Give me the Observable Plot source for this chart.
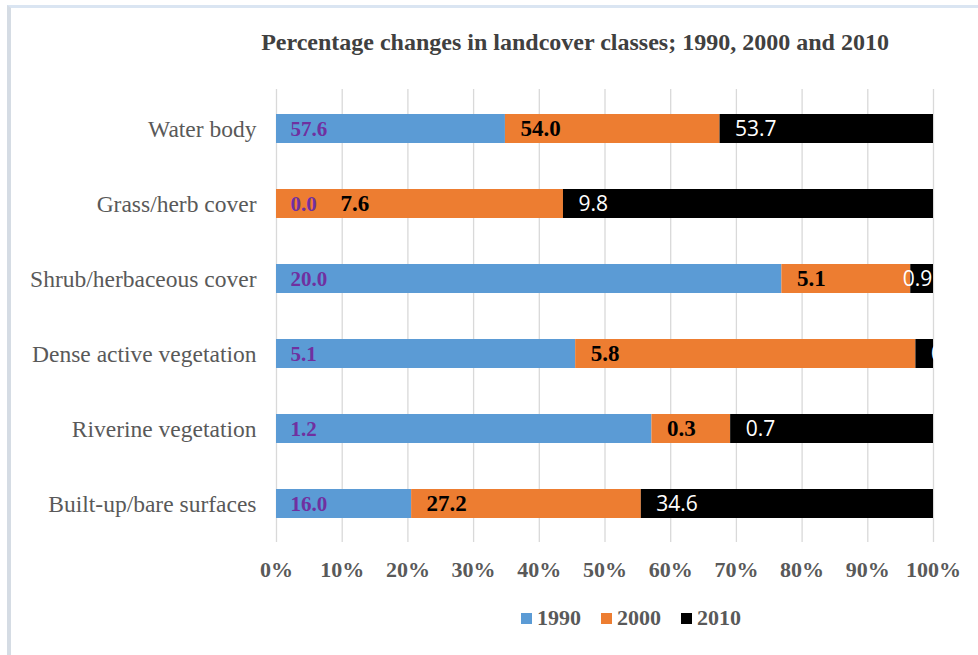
<!DOCTYPE html>
<html>
<head>
<meta charset="utf-8">
<script src="https://cdn.jsdelivr.net/npm/d3@7"></script>
<script src="https://cdn.jsdelivr.net/npm/@observablehq/plot@0.6"></script>
<style>
  html, body { margin: 0; padding: 0; background: #fff; }
  #wrap { position: relative; width: 978px; height: 655px; overflow: hidden; background: #fff; }
  #frame { position: absolute; left: 7px; top: 5px; width: 1100px; height: 800px;
           border-left: 4px solid #D5DCE4; border-top: 3px solid #DAE5F2; box-sizing: border-box; }
  #chart { position: absolute; left: 0; top: 0; }
  #title { position: absolute; left: 0; width: 1150px; top: 30px; text-align: center;
           font-family: "Liberation Serif", serif; font-weight: bold; font-size: 24px; line-height: 24px;
           color: #404040; white-space: nowrap; }
  #legend { position: absolute; left: 521px; top: 607px; display: flex; gap: 20px;
            font-family: "Liberation Serif", serif; font-weight: bold; font-size: 22px; line-height: 22px;
            color: #595959; }
  #legend .item { display: flex; align-items: center; }
  #legend .sw { width: 11px; height: 11px; margin-right: 5px; margin-top: 1px; }
</style>
</head>
<body>
<div id="wrap">
  <div id="frame"></div>
  <div id="chart"></div>
  <div id="title">Percentage changes in landcover classes; 1990, 2000 and 2010</div>
  <div id="legend"></div>
</div>
<script>
const categories = ["Water body", "Grass/herb cover", "Shrub/herbaceous cover",
                    "Dense active vegetation", "Riverine vegetation", "Built-up/bare surfaces"];
const years = ["1990", "2000", "2010"];
const values1990 = [57.6, 0.0, 20.0, 5.1, 1.24, 16.0];
const values2000 = [54.0, 7.6, 5.1, 5.8, 0.26, 27.2];
const values2010 = [53.7, 9.8, 0.9, 0.3, 0.67, 34.6];
const xTicks = [0, 0.1, 0.2, 0.3, 0.4, 0.5, 0.6, 0.7, 0.8, 0.9, 1];
const xTickLabels = ["0%", "10%", "20%", "30%", "40%", "50%", "60%", "70%", "80%", "90%", "100%"];
const yearColors = ["#5B9BD5", "#ED7D31", "#000000"];

const series = [values1990, values2000, values2010];
const rows = [];
categories.forEach((c, i) => {
  years.forEach((y, j) => rows.push({category: c, year: y, value: series[j][i]}));
});

// hand-placed label nudges from the original chart
const nudge = {"Grass/herb cover|2000": 64, "Shrub/herbaceous cover|2010": -8};
const baseDx = {"1990": 14, "2000": 15, "2010": 15};
const styles = {
  "1990": {fill: "#7030A0", fontSize: 21, fontWeight: "bold", fontFamily: "Liberation Serif"},
  "2000": {fill: "#000000", fontSize: 23, fontWeight: "bold", fontFamily: "Liberation Serif"},
  "2010": {fill: "#ffffff", fontSize: 21, fontWeight: "normal", fontFamily: "Open Sans"}
};

function labelMarks() {
  const marks = [];
  const groups = new Map();
  for (const r of rows) {
    const key = r.category + "|" + r.year;
    const dx = nudge[key] !== undefined ? nudge[key] : baseDx[r.year];
    const gk = r.year + "|" + dx;
    if (!groups.has(gk)) groups.set(gk, {year: r.year, dx});
  }
  for (const {year, dx} of groups.values()) {
    marks.push(Plot.text(rows, Plot.filter(
      d => d.year === year && ((nudge[d.category + "|" + d.year] ?? baseDx[d.year]) === dx),
      Plot.stackX1({
        x: "value", y: "category", z: "year", offset: "normalize",
        text: d => d.value.toFixed(1), textAnchor: "start", dx,
        ...styles[year]
      })
    )));
  }
  return marks;
}

const chart = Plot.plot({
  width: 978,
  height: 655,
  marginLeft: 276,
  marginRight: 45,
  marginTop: 89,
  marginBottom: 113,
  style: {background: "transparent", fontFamily: "Liberation Serif", overflow: "visible"},
  x: {domain: [0, 1], label: null},
  y: {domain: categories, paddingInner: 0.616, paddingOuter: 0.308, label: null},
  color: {domain: years, range: yearColors},
  marks: [
    Plot.gridX(xTicks, {stroke: "#D9D9D9", strokeOpacity: 1, strokeWidth: 1.3}),
    Plot.barX(rows, Plot.stackX({x: "value", y: "category", fill: "year", offset: "normalize"})),
    ...labelMarks(),
    Plot.axisX({
      ticks: xTicks, tickFormat: d => xTickLabels[xTicks.indexOf(d)] ?? "",
      tickSize: 0, tickPadding: 19, fontSize: 22, fontWeight: "bold",
      fill: "#595959", fontFamily: "Liberation Serif", label: null
    }),
    Plot.axisY({
      tickSize: 0, tickPadding: 20, fontSize: 23.5, fill: "#595959",
      fontFamily: "Liberation Serif", label: null
    })
  ]
});
document.getElementById("chart").appendChild(chart);

const legend = document.getElementById("legend");
years.forEach((y, i) => {
  const item = document.createElement("div");
  item.className = "item";
  const sw = document.createElement("span");
  sw.className = "sw";
  sw.style.background = yearColors[i];
  const t = document.createElement("span");
  t.textContent = y;
  item.appendChild(sw);
  item.appendChild(t);
  legend.appendChild(item);
});
</script>
</body>
</html>
